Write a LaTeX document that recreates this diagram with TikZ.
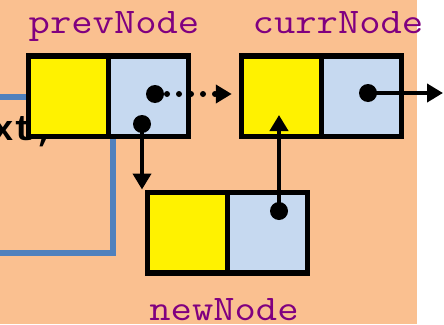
\documentclass[tikz,border=0pt]{standalone}
\usepackage{fontspec}
\usepackage{graphicx}
\newfontfamily\codefont{Liberation Mono}
\usetikzlibrary{arrows.meta}
\definecolor{bg}{RGB}{250,192,144}
\definecolor{cellblue}{RGB}{198,217,240}
\definecolor{lineblue}{RGB}{79,129,189}
\definecolor{lbl}{RGB}{128,0,128}
\newcommand{\widemono}[1]{\scalebox{1.15}[1]{#1}}
\tikzset{
  ycell/.style={draw=black, line width=5.5pt, fill=yellow, minimum width=80pt, minimum height=80.5pt, inner sep=0pt, outer sep=0pt},
  bcell/.style={ycell, fill=cellblue},
  dot/.style={circle, fill=black, minimum size=18pt, inner sep=0pt, outer sep=0pt},
  tip/.style={-{Triangle[length=16pt,width=18pt]}},
  ptr/.style={line width=4.5pt, tip},
  dptr/.style={line width=6pt, line cap=round, dash pattern=on 0pt off 12pt, tip},
  lbltext/.style={text=lbl, font=\ttfamily\fontsize{36}{40}\selectfont, anchor=base, inner sep=0pt},
  codetext/.style={text=black, font=\codefont\bfseries\fontsize{36}{40}\selectfont, anchor=base west, inner sep=0pt},
}
\begin{document}
\begin{tikzpicture}[x=1pt, y=-1pt]
\useasboundingbox (0,0) rectangle (444,324);
\fill[white] (0,0) rectangle (444,324);
\fill[bg] (0,0) rectangle (417,324);
% blue code frame behind
\draw[lineblue, line width=6pt] (-10,96.5) -- (113,96.5) -- (113,252.5) -- (-10,252.5);
\node[codetext] (code) at (-8,140) {xt,};
% list nodes
\node[ycell] (py) at (68.5,96) {};
\node[bcell] (pb) at (148.5,96) {};
\node[ycell] (cy) at (281.5,96) {};
\node[bcell] (cb) at (361.5,96) {};
\node[ycell] (ny) at (187.5,232.5) {};
\node[bcell] (nb) at (267.5,232.5) {};
% dots
\node[dot] (d1) at (155,94) {};
\node[dot] (d2) at (142,124) {};
\node[dot] (d3) at (368,93) {};
\node[dot] (d4) at (279,211) {};
\coordinate (e3) at (443,93);
\coordinate (e4) at (279,115);
% pointers
\draw[dptr, shorten >=9.75pt] (d1.center) -- (d1.center -| cy.west);
\draw[ptr, shorten >=2.75pt] (d2.center) -- (d2.center |- ny.north);
\draw[ptr] (d3.center) -- (e3);
\draw[ptr] (d4.center) -- (e4);
% labels
\node[lbltext] (lp) at (114,33) {\widemono{prevNode}};
\node[lbltext] (lc) at (338,33) {\widemono{currNode}};
\node[lbltext] (ln) at (224,320) {\widemono{newNode}};
\end{tikzpicture}
\end{document}
